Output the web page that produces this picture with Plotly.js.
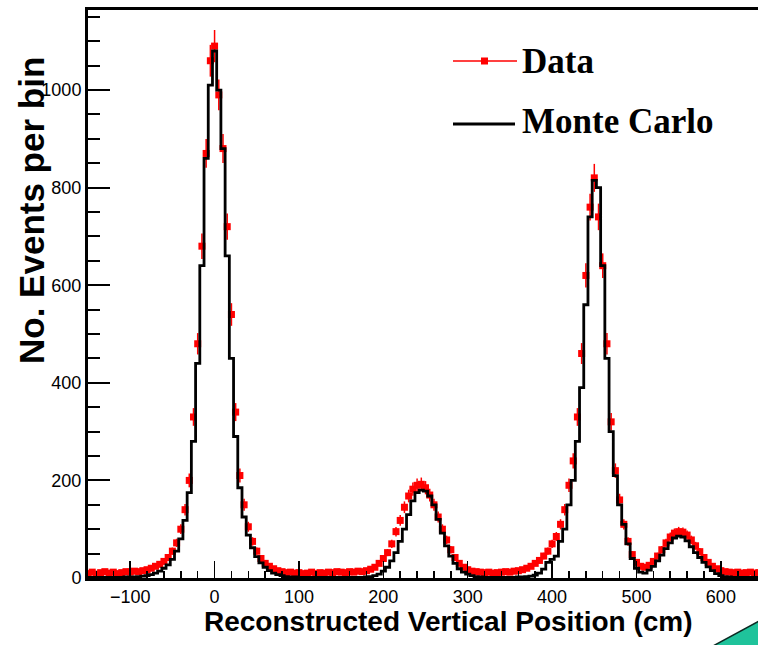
<!DOCTYPE html>
<html>
<head>
<meta charset="utf-8">
<script src="https://cdn.plot.ly/plotly-3.0.1.min.js"></script>
<style>
  html, body { margin: 0; padding: 0; background: #ffffff; }
  #chart { width: 758px; height: 645px; }
</style>
</head>
<body>
<div id="chart"></div>
<script>
// Histogram binning: 5 cm bins, first bin centred at -150 cm
const BIN_LO = -150;
const BIN_W = 5;

// Measured event counts per bin (Data)
const dataCounts = [
  9, 12, 8, 11, 13, 10, 12, 9, 11, 13,            // -150 .. -105
  12, 14, 13, 15, 17, 20, 24, 28, 34, 42,         // -100 .. -55
  55, 72, 100, 140, 200, 330, 480, 680, 870, 1060,// -50 .. -5
  1090, 990, 880, 720, 540, 340, 210, 150, 105, 75,// 0 .. 45
  55, 40, 30, 24, 19, 15, 13, 11, 12, 10,         // 50 .. 95
  11, 9, 10, 12, 9, 11, 10, 12, 11, 13,           // 100 .. 145
  12, 11, 13, 12, 14, 13, 15, 18, 22, 30,         // 150 .. 195
  40, 52, 70, 95, 118, 145, 168, 182, 190, 192,   // 200 .. 245
  185, 170, 150, 125, 100, 78, 58, 42, 30, 22,    // 250 .. 295
  17, 14, 13, 12, 11, 12, 10, 11, 12, 13,         // 300 .. 345
  12, 14, 15, 17, 20, 24, 30, 36, 45, 55,         // 350 .. 395
  70, 85, 110, 140, 190, 240, 330, 460, 620, 760, // 400 .. 445
  820, 740, 640, 480, 320, 220, 160, 110, 75, 48, // 450 .. 495
  32, 24, 22, 26, 34, 45, 58, 72, 84, 92,         // 500 .. 545
  95, 94, 88, 78, 66, 54, 42, 32, 24, 19,         // 550 .. 595
  15, 13, 12, 11, 12, 10, 11, 12, 10, 11          // 600 .. 645
];

// Simulated event counts per bin (Monte Carlo)
const mcCounts = [
  1, 1, 1, 1, 1, 1, 1, 1, 1, 2,                   // -150 .. -105
  2, 2, 3, 4, 5, 7, 10, 14, 20, 27,               // -100 .. -55
  38, 55, 80, 118, 175, 280, 440, 640, 860, 1010, // -50 .. -5
  1080, 1000, 880, 660, 450, 290, 185, 125, 88, 62,// 0 .. 45
  44, 31, 22, 15, 10, 7, 5, 3, 2, 2,              // 50 .. 95
  1, 1, 1, 1, 1, 1, 1, 1, 1, 1,                   // 100 .. 145
  1, 1, 1, 1, 1, 1, 2, 3, 5, 8,                   // 150 .. 195
  14, 22, 35, 52, 75, 100, 130, 158, 175, 180,    // 200 .. 245
  178, 168, 150, 120, 92, 66, 45, 30, 19, 12,     // 250 .. 295
  8, 5, 3, 2, 1, 1, 1, 1, 1, 1,                   // 300 .. 345
  1, 1, 2, 2, 3, 4, 6, 10, 18, 32,                // 350 .. 395
  38, 45, 75, 100, 150, 200, 280, 390, 560, 740,  // 400 .. 445
  815, 800, 640, 450, 300, 210, 150, 110, 70, 40, // 450 .. 495
  20, 12, 10, 16, 24, 35, 47, 60, 72, 82,         // 500 .. 545
  86, 84, 76, 64, 52, 42, 32, 23, 15, 9,          // 550 .. 595
  5, 3, 2, 1, 1, 1, 1, 1, 1, 1                    // 600 .. 645
];

const seriesNames = ['Data', 'Monte Carlo'];
const xTitle = 'Reconstructed Vertical Position (cm)';
const yTitle = 'No. Events per bin';

const binCenters = dataCounts.map((_, i) => BIN_LO + BIN_W * i);

const dataTrace = {
  type: 'scatter',
  mode: 'markers',
  name: seriesNames[0],
  x: binCenters,
  y: dataCounts,
  marker: { symbol: 'square', size: 7, color: '#ff0000' },
  error_y: { type: 'sqrt', visible: true, color: '#ff0000', thickness: 1.5, width: 0 },
  error_x: { type: 'constant', value: BIN_W / 2, visible: true, color: '#ff0000', thickness: 2, width: 0 },
  showlegend: false,
  cliponaxis: true
};

const mcTrace = {
  type: 'scatter',
  mode: 'lines',
  name: seriesNames[1],
  x: binCenters,
  y: mcCounts,
  line: { shape: 'hvh', color: '#000000', width: 2.8 },
  showlegend: false
};

// Plot-area geometry (pixels) used to place the legend, titles and corner decoration
const W = 758, H = 645;
const M = { l: 88, r: 0, t: 10, b: 67 };
const PW = W - M.l - M.r, PH = H - M.t - M.b;
const px = x => (x - M.l) / PW;
const py = y => (H - M.b - y) / PH;

const legendFont = { family: 'Liberation Serif, Times New Roman, serif', size: 35, color: '#000000', weight: 'bold' };
const titleFamily = 'Liberation Sans, Arial, sans-serif';

const shapes = [
  // legend key: Data (red line with square marker)
  { type: 'line', xref: 'paper', yref: 'paper', x0: px(453), x1: px(517), y0: py(61), y1: py(61),
    line: { color: '#ff0000', width: 1.5 } },
  { type: 'rect', xref: 'paper', yref: 'paper', x0: px(481), x1: px(488), y0: py(57.5), y1: py(64.5),
    fillcolor: '#ff0000', line: { width: 0 } },
  // legend key: Monte Carlo (black line)
  { type: 'line', xref: 'paper', yref: 'paper', x0: px(453), x1: px(515), y0: py(124), y1: py(124),
    line: { color: '#000000', width: 3 } },
  // teal corner decoration, bottom right
  { type: 'path', xref: 'paper', yref: 'paper', layer: 'above',
    path: `M ${px(713)},${py(646)} L ${px(759)},${py(621)} L ${px(759)},${py(646)} Z`,
    fillcolor: '#1fc39b', line: { color: '#0b2a22', width: 1.5 } }
];

const annotations = [
  { xref: 'paper', yref: 'paper', x: px(520), y: py(61), xanchor: 'left', yanchor: 'middle',
    text: seriesNames[0], showarrow: false, font: legendFont },
  { xref: 'paper', yref: 'paper', x: px(520), y: py(122), xanchor: 'left', yanchor: 'middle',
    text: seriesNames[1], showarrow: false, font: legendFont },
  // axis titles, right/top aligned as in ROOT style
  { xref: 'paper', yref: 'paper', x: px(449), y: py(622), xanchor: 'center', yanchor: 'middle',
    text: xTitle, showarrow: false,
    font: { family: titleFamily, size: 28, color: '#000000', weight: 'bold' } },
  { xref: 'paper', yref: 'paper', x: px(31), y: py(211), xanchor: 'center', yanchor: 'middle',
    text: yTitle, textangle: -90, showarrow: false,
    font: { family: titleFamily, size: 35, color: '#000000', weight: 'bold' } }
];

const tickFont = { family: 'Liberation Sans, Arial, sans-serif', size: 18, color: '#000000' };

const layout = {
  width: W,
  height: H,
  margin: M,
  paper_bgcolor: '#ffffff',
  plot_bgcolor: '#ffffff',
  showlegend: false,
  xaxis: {
    range: [-150, 644],
    showgrid: false,
    zeroline: false,
    showline: true,
    linecolor: '#000000',
    linewidth: 3,
    mirror: true,
    ticks: 'inside',
    dtick: 100,
    tick0: 0,
    ticklen: 17,
    tickwidth: 1.5,
    tickcolor: '#000000',
    minor: { dtick: 20, ticks: 'inside', ticklen: 7, tickwidth: 1.5, tickcolor: '#000000' },
    tickfont: tickFont,
    automargin: false
  },
  yaxis: {
    range: [0, 1164],
    showgrid: false,
    zeroline: false,
    showline: true,
    linecolor: '#000000',
    linewidth: 3,
    ticks: 'inside',
    dtick: 200,
    tick0: 0,
    ticklen: 22,
    tickwidth: 2,
    tickcolor: '#000000',
    minor: { dtick: 50, ticks: 'inside', ticklen: 12, tickwidth: 2, tickcolor: '#000000' },
    tickfont: tickFont,
    automargin: false
  },
  shapes: shapes,
  annotations: annotations
};

Plotly.newPlot('chart', [dataTrace, mcTrace], layout, { displayModeBar: false, staticPlot: true });
</script>
</body>
</html>
